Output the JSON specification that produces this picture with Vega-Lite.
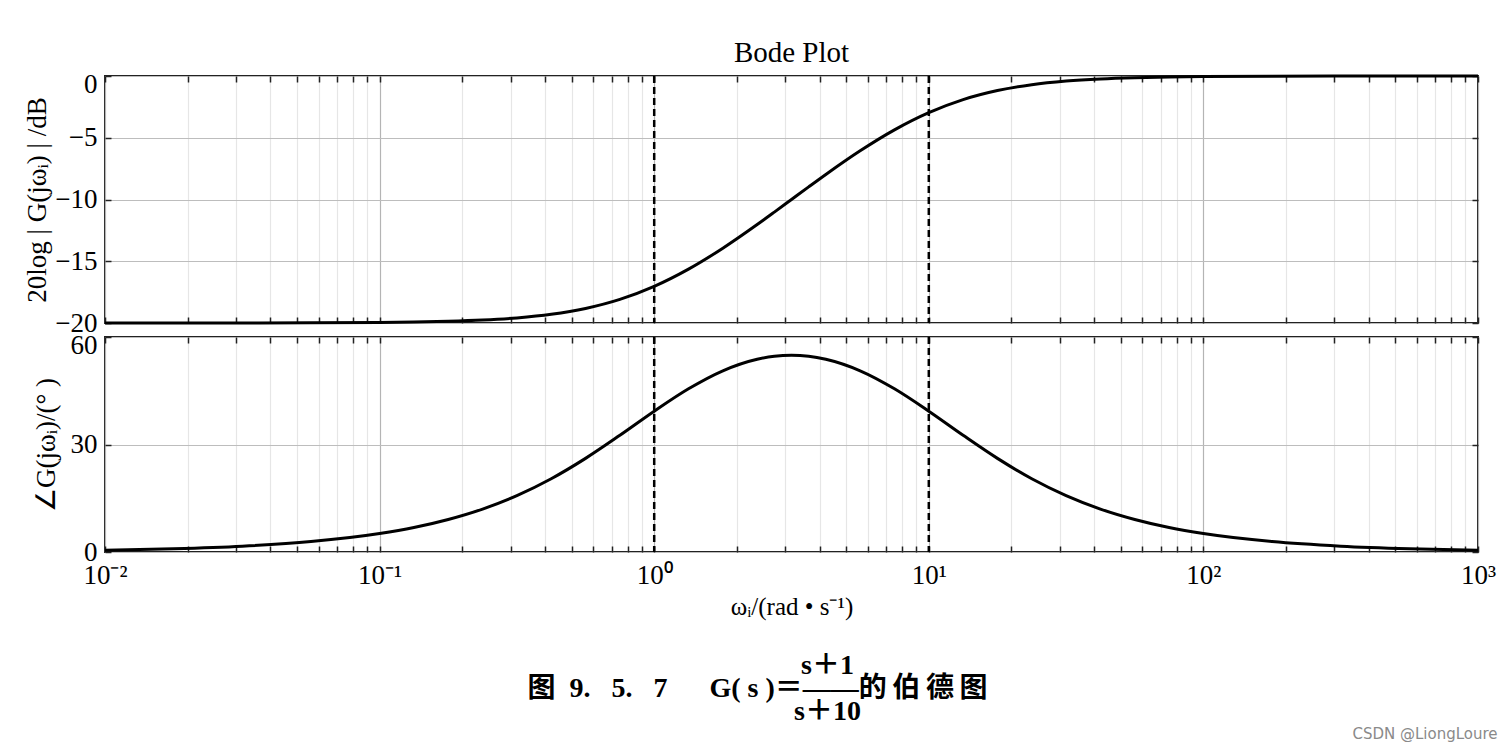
{
  "$schema": "https://vega.github.io/schema/vega-lite/v6.json",
  "background": "white",
  "padding": {"left": 22, "top": 38, "right": 5, "bottom": 0},
  "config": {
    "font": "Liberation Serif",
    "view": {"stroke": "#222", "strokeWidth": 2},
    "axis": {
      "labelFont": "Liberation Serif",
      "titleFont": "Liberation Serif",
      "labelColor": "black",
      "titleColor": "black",
      "titleFontWeight": "normal",
      "domain": false,
      "tickColor": "#222",
      "tickWidth": 1.5,
      "tickSize": -6,
      "minExtent": 0
    }
  },
  "title": {"text": "CSDN @LiongLoure", "orient": "bottom", "anchor": "end", "font": "DejaVu Sans", "fontSize": 15, "fontWeight": "normal", "color": "#8a8a8a", "offset": 0, "dx": 1},
  "data": {"values": [
    {"w": 0.01, "mag": -20.0, "phase": 0.52},
    {"w": 0.017783, "mag": -19.999, "phase": 0.92},
    {"w": 0.031623, "mag": -19.996, "phase": 1.63},
    {"w": 0.056234, "mag": -19.986, "phase": 2.90},
    {"w": 0.1, "mag": -19.957, "phase": 5.14},
    {"w": 0.13335, "mag": -19.924, "phase": 6.83},
    {"w": 0.17783, "mag": -19.866, "phase": 9.07},
    {"w": 0.23714, "mag": -19.765, "phase": 11.98},
    {"w": 0.31623, "mag": -19.590, "phase": 15.74},
    {"w": 0.42170, "mag": -19.297, "phase": 20.45},
    {"w": 0.56234, "mag": -18.820, "phase": 26.13},
    {"w": 0.74989, "mag": -18.087, "phase": 32.57},
    {"w": 1, "mag": -17.033, "phase": 39.29},
    {"w": 1.3335, "mag": -15.639, "phase": 45.54},
    {"w": 1.7783, "mag": -13.942, "phase": 50.57},
    {"w": 2.3714, "mag": -12.027, "phase": 53.79},
    {"w": 2.7384, "mag": -11.020, "phase": 54.63},
    {"w": 3.1623, "mag": -10.0, "phase": 54.90},
    {"w": 3.6517, "mag": -8.980, "phase": 54.63},
    {"w": 4.2170, "mag": -7.973, "phase": 53.79},
    {"w": 5.6234, "mag": -6.058, "phase": 50.57},
    {"w": 7.4989, "mag": -4.361, "phase": 45.54},
    {"w": 10, "mag": -2.967, "phase": 39.29},
    {"w": 13.335, "mag": -1.913, "phase": 32.57},
    {"w": 17.783, "mag": -1.180, "phase": 26.13},
    {"w": 23.714, "mag": -0.703, "phase": 20.45},
    {"w": 31.623, "mag": -0.410, "phase": 15.74},
    {"w": 42.170, "mag": -0.235, "phase": 11.98},
    {"w": 56.234, "mag": -0.134, "phase": 9.07},
    {"w": 74.989, "mag": -0.076, "phase": 6.83},
    {"w": 100, "mag": -0.043, "phase": 5.14},
    {"w": 177.83, "mag": -0.014, "phase": 2.90},
    {"w": 316.23, "mag": -0.004, "phase": 1.63},
    {"w": 562.34, "mag": -0.001, "phase": 0.92},
    {"w": 1000, "mag": 0.0, "phase": 0.52}
  ]},
  "spacing": -17,
  "vconcat": [
    {
      "width": 1373,
      "height": 247,
      "title": {"text": "Bode Plot", "font": "Liberation Serif", "fontSize": 29, "fontWeight": "normal", "color": "black", "offset": 2},
      "layer": [
        {
          "mark": {"type": "line", "color": "black", "strokeWidth": 3, "interpolate": "monotone"},
          "encoding": {
            "x": {"field": "w", "type": "quantitative", "scale": {"type": "log", "domain": [0.01, 1000]},
              "axis": {"orient": "bottom", "labels": false, "title": null, "grid": true,
                "values": [0.01,0.02,0.03,0.04,0.05,0.06,0.07,0.08,0.09,0.1,0.2,0.3,0.4,0.5,0.6,0.7,0.8,0.9,1,2,3,4,5,6,7,8,9,10,20,30,40,50,60,70,80,90,100,200,300,400,500,600,700,800,900,1000],
                "gridColor": {"condition": {"test": "abs(log(datum.value)/LN10 - round(log(datum.value)/LN10)) < 0.001", "value": "#b4b4b4"}, "value": "#e6e6e6"},
                "gridWidth": 1.2}},
            "y": {"field": "mag", "type": "quantitative", "scale": {"domain": [-20, 0], "nice": false},
              "axis": {"orient": "left", "values": [-20, -15, -10, -5, 0], "grid": true, "gridColor": "#bdbdbd", "gridWidth": 1.2,
                "labelOffset": {"condition": {"test": "datum.value == 0", "value": 8}, "value": 0},
                "title": "20log | G(jωᵢ) | /dB", "titleFontSize": 27, "labelFontSize": 27, "labelPadding": 14, "titlePadding": 3}}
          }
        },
        {
          "data": {"values": [{"w": 1}, {"w": 10}]},
          "mark": {"type": "rule", "color": "black", "strokeWidth": 2.5, "strokeDash": [7, 4]},
          "encoding": {
            "x": {"field": "w", "type": "quantitative", "scale": {"type": "log", "domain": [0.01, 1000]},
              "axis": {"orient": "top", "labels": false, "title": null, "grid": false,
                "values": [0.01,0.02,0.03,0.04,0.05,0.06,0.07,0.08,0.09,0.1,0.2,0.3,0.4,0.5,0.6,0.7,0.8,0.9,1,2,3,4,5,6,7,8,9,10,20,30,40,50,60,70,80,90,100,200,300,400,500,600,700,800,900,1000]}}
          }
        },
        {
          "mark": {"type": "point", "opacity": 0},
          "encoding": {
            "x": {"field": "w", "type": "quantitative", "axis": null},
            "y": {"field": "mag", "type": "quantitative", "axis": {"orient": "right", "values": [-20, -15, -10, -5, 0], "labels": false, "title": null, "grid": false}}
          }
        }
      ],
      "resolve": {"axis": {"x": "independent", "y": "independent"}}
    },
    {
      "width": 1373,
      "height": 215,
      "title": {
        "text": ["\u200b\u00a0\u00a0\u00a0\u00a0\u00a0\u00a0\u00a0\u00a0\u00a0\u00a0\u00a0\u00a0\u00a0\u00a0\u00a0\u00a0\u00a0\u00a0\u00a0\u00a0s＋1", "图\u00a0\u00a09.\u00a0\u00a0\u00a05.\u00a0\u00a0\u00a07\u00a0\u00a0\u00a0\u00a0\u00a0\u00a0G(\u00a0s\u00a0)＝——的\u2009伯\u2009德\u2009图", "\u200b\u00a0\u00a0\u00a0\u00a0\u00a0\u00a0\u00a0\u00a0\u00a0\u00a0\u00a0\u00a0\u00a0\u00a0\u00a0\u00a0\u00a0\u00a0\u00a0\u00a0s＋10"],
        "orient": "bottom", "anchor": "middle", "dx": -34, "font": "'Liberation Serif', 'Noto Sans CJK SC'", "fontSize": 28, "fontWeight": "bold", "color": "black", "lineHeight": 23, "offset": 33
      },
      "layer": [
        {
          "mark": {"type": "line", "color": "black", "strokeWidth": 3, "interpolate": "monotone"},
          "encoding": {
            "x": {"field": "w", "type": "quantitative", "scale": {"type": "log", "domain": [0.01, 1000]},
              "axis": {"orient": "bottom", "title": "ωᵢ/(rad • s⁻¹)", "titleFontSize": 25, "titlePadding": 6, "grid": true,
                "labelFontSize": 27, "labelPadding": 16, "labelOverlap": false, "labelFlush": false,
                "labelExpr": "datum.value==0.01?'10⁻²':datum.value==0.1?'10⁻¹':datum.value==1?'10⁰':datum.value==10?'10¹':datum.value==100?'10²':datum.value==1000?'10³':''",
                "values": [0.01,0.02,0.03,0.04,0.05,0.06,0.07,0.08,0.09,0.1,0.2,0.3,0.4,0.5,0.6,0.7,0.8,0.9,1,2,3,4,5,6,7,8,9,10,20,30,40,50,60,70,80,90,100,200,300,400,500,600,700,800,900,1000],
                "gridColor": {"condition": {"test": "abs(log(datum.value)/LN10 - round(log(datum.value)/LN10)) < 0.001", "value": "#b4b4b4"}, "value": "#e6e6e6"},
                "gridWidth": 1.2}},
            "y": {"field": "phase", "type": "quantitative", "scale": {"domain": [0, 60], "nice": false},
              "axis": {"orient": "left", "values": [0, 30, 60], "grid": true, "gridColor": "#bdbdbd", "gridWidth": 1.2,
                "labelOffset": {"condition": {"test": "datum.value == 60", "value": 8}, "value": 0},
                "title": "∠G(jωᵢ)/(° )", "titleFontSize": 27, "labelFontSize": 27, "labelPadding": 14, "titlePadding": 10}}
          }
        },
        {
          "data": {"values": [{"w": 1}, {"w": 10}]},
          "mark": {"type": "rule", "color": "black", "strokeWidth": 2.5, "strokeDash": [7, 4]},
          "encoding": {
            "x": {"field": "w", "type": "quantitative", "scale": {"type": "log", "domain": [0.01, 1000]},
              "axis": {"orient": "top", "labels": false, "title": null, "grid": false,
                "values": [0.01,0.02,0.03,0.04,0.05,0.06,0.07,0.08,0.09,0.1,0.2,0.3,0.4,0.5,0.6,0.7,0.8,0.9,1,2,3,4,5,6,7,8,9,10,20,30,40,50,60,70,80,90,100,200,300,400,500,600,700,800,900,1000]}}
          }
        },
        {
          "mark": {"type": "point", "opacity": 0},
          "encoding": {
            "x": {"field": "w", "type": "quantitative", "axis": null},
            "y": {"field": "phase", "type": "quantitative", "axis": {"orient": "right", "values": [0, 30, 60], "labels": false, "title": null, "grid": false}}
          }
        }
      ],
      "resolve": {"axis": {"x": "independent", "y": "independent"}}
    }
  ]
}
